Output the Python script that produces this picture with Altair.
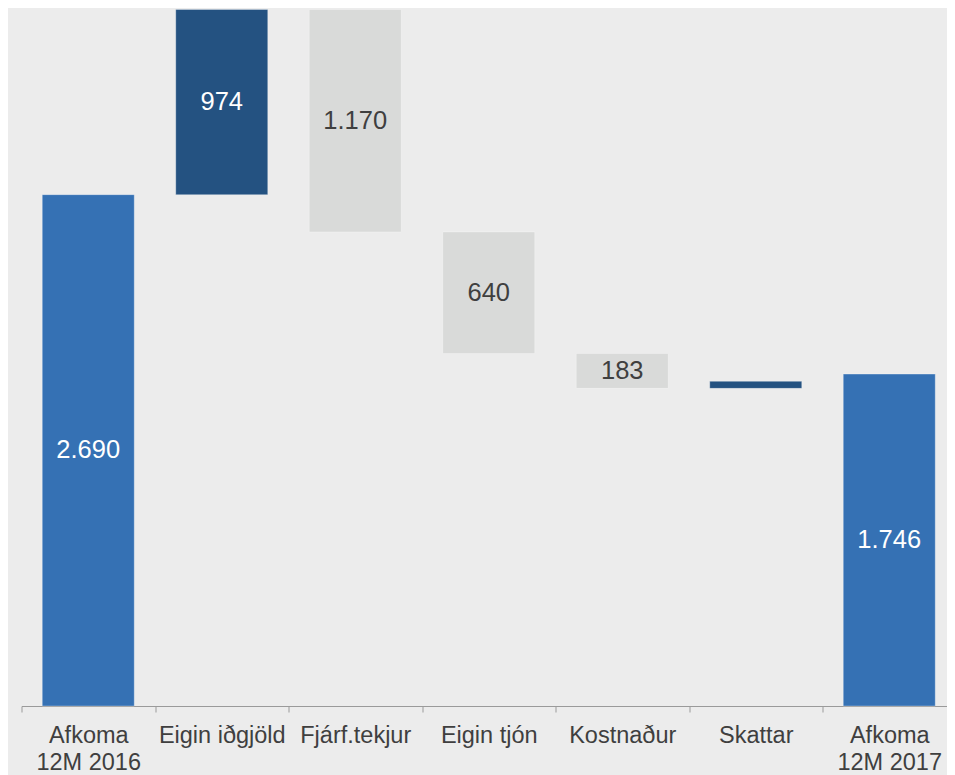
import altair as alt
import pandas as pd

categories = ["Afkoma 12M 2016", "Eigin iðgjöld", "Fjárf.tekjur", "Eigin tjón",
              "Kostnaður", "Skattar", "Afkoma 12M 2017"]
changes = [2690, 974, -1170, -640, -183, 37, 1746]
kinds = ["total", "up", "down", "down", "down", "up", "total"]
show_label = [True, True, True, True, True, False, True]

bar_colors = {"total": "#3571b4", "up": "#245281", "down": "#d9dad9"}
text_colors = {"total": "#ffffff", "up": "#ffffff", "down": "#3f3f3f"}

rows = []
running = 0
for cat, ch, kind, sl in zip(categories, changes, kinds, show_label):
    if kind == "total":
        start, end = 0, ch
        running = ch
    else:
        start, end = running, running + ch
        running = end
    rows.append({
        "cat": cat,
        "start": start,
        "end": end,
        "mid": (start + end) / 2,
        "label": f"{abs(ch):,}".replace(",", ".") if sl else "",
        "color": bar_colors[kind],
        "tcolor": text_colors[kind],
    })
df = pd.DataFrame(rows)

FONT = "Liberation Sans"

x_enc = alt.X(
    "cat:N",
    sort=categories,
    scale=alt.Scale(paddingInner=0, paddingOuter=0, range=[0, 934.5]),
    axis=alt.Axis(
        title=None,
        labelAngle=0,
        tickBand="extent",
        tickSize=6,
        tickColor="#9a9a9a",
        domainColor="#9a9a9a",
        labelFont=FONT,
        labelFontSize=23.5,
        labelColor="#3f3f3f",
        labelLineHeight=27,
        labelPadding=11,
        labelExpr="indexof(datum.label, 'Afkoma ') == 0 ? [substring(datum.label, 0, 6), substring(datum.label, 7)] : datum.label",
    ),
)

y_scale = alt.Scale(domain=[0, 3672], nice=False, zero=True)

base = alt.Chart(df)

bars = base.mark_bar(size=92, stroke="white", strokeOpacity=0.3, strokeWidth=1).encode(
    x=x_enc,
    y=alt.Y("start:Q", scale=y_scale, axis=None),
    y2="end:Q",
    color=alt.Color("color:N", scale=None),
)

text = base.mark_text(font=FONT, fontSize=25.5, baseline="middle").encode(
    x=alt.X("cat:N", sort=categories),
    y=alt.Y("mid:Q", scale=y_scale, axis=None),
    text="label:N",
    color=alt.Color("tcolor:N", scale=None),
)

chart = (
    alt.layer(bars, text)
    .properties(
        width=925,
        height=698,
        padding={"left": 13.5, "top": 0, "right": 0, "bottom": 70},
        autosize=alt.AutoSizeParams(type="none"),
        background="#ececec",
    )
    .configure_view(stroke=None)
)

chart.save("out.html", embed_options={"renderer": "svg", "actions": False})
